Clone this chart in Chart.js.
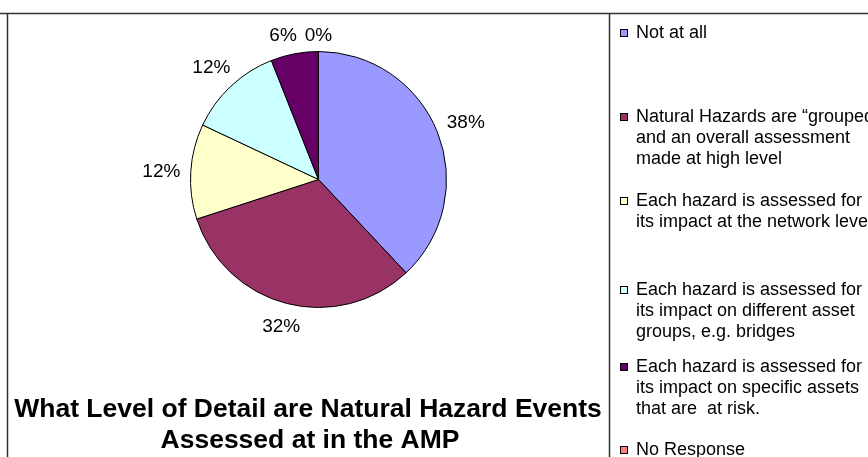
<!DOCTYPE html>
<html>
<head>
<meta charset="utf-8">
<script src="https://cdn.jsdelivr.net/npm/chart.js@4.4.1/dist/chart.umd.min.js"></script>
<style>
  html, body { margin: 0; padding: 0; background: #fff; }
  #wrap { width: 868px; height: 457px; position: relative; }
</style>
</head>
<body>
<div id="wrap"><canvas id="hazard_pie" width="868" height="457"></canvas></div>
<script>
// categories (legend lines) and shares in percent
const categories = [
  ['Not at all'],
  ['Natural Hazards are \u201cgrouped\u201d', 'and an overall assessment', 'made at high level'],
  ['Each hazard is assessed for', 'its impact at the network level'],
  ['Each hazard is assessed for', 'its impact on different asset', 'groups, e.g. bridges'],
  ['Each hazard is assessed for', 'its impact on specific assets', 'that are  at risk.'],
  ['No Response']
];
const shares = [38, 32, 12, 12, 6, 0];
const sliceColors = ['#9999FF', '#993366', '#FFFFCC', '#CCFFFF', '#660066', '#FF8080'];
const titleLines = ['What Level of Detail are Natural Hazard Events', 'Assessed at in the AMP'];

// legend layout
const legendTop = [33, 117, 201, 290, 367, 450];
const legendX = 620.5;
const lineH = 21;

const FONT = 'Arial, "Liberation Sans", sans-serif';

// frame lines, title and legend
const framePlugin = {
  id: 'frame',
  afterDraw(chart) {
    const c = chart.ctx;
    c.save();
    c.strokeStyle = '#333';
    c.lineWidth = 1.5;
    c.beginPath();
    c.moveTo(0, 13.5); c.lineTo(868, 13.5);
    c.moveTo(7.5, 13.5); c.lineTo(7.5, 457);
    c.moveTo(609.5, 13.5); c.lineTo(609.5, 457);
    c.stroke();

    // title
    c.fillStyle = '#000';
    c.font = 'bold 26.5px ' + FONT;
    c.textAlign = 'center';
    c.textBaseline = 'alphabetic';
    c.fillText(titleLines[0], 308, 417);
    c.fillText(titleLines[1], 310, 448);

    // legend
    const labels = chart.data.labels;
    const colors = chart.data.datasets[0].backgroundColor;
    c.font = '18px ' + FONT;
    c.textAlign = 'left';
    c.textBaseline = 'middle';
    labels.forEach((lines, i) => {
      const y = legendTop[i];
      c.fillStyle = colors[i];
      c.fillRect(legendX, y - 3.5, 7, 7);
      c.lineWidth = 1;
      c.strokeStyle = '#000';
      c.strokeRect(legendX, y - 3.5, 7, 7);
      c.fillStyle = '#000';
      lines.forEach((t, k) => c.fillText(t, 636, y + k * lineH));
    });
    c.restore();
  }
};

// percentage labels just outside each slice
const pctPlugin = {
  id: 'pctLabels',
  afterDatasetsDraw(chart) {
    const c = chart.ctx;
    const meta = chart.getDatasetMeta(0);
    const vals = chart.data.datasets[0].data;
    const gap = 10;
    const h = 15;
    c.save();
    c.font = '19px ' + FONT;
    c.fillStyle = '#000';
    c.textAlign = 'center';
    c.textBaseline = 'middle';

    const boxes = meta.data.map((arc, i) => {
      const p = arc.getProps(['x', 'y', 'startAngle', 'endAngle', 'outerRadius'], true);
      const mid = (p.startAngle + p.endAngle) / 2;
      const txt = vals[i] + '%';
      const w = c.measureText(txt).width;
      const ux = Math.cos(mid), uy = Math.sin(mid);
      const d = p.outerRadius + gap + w / 2 * Math.abs(ux) + h / 2 * Math.abs(uy);
      return { txt, w, x: p.x + ux * d, y: p.y + uy * d + 2 };
    });

    // push a label sideways when it runs into the next one
    for (let i = boxes.length - 2; i >= 0; i--) {
      const a = boxes[i], b = boxes[i + 1];
      const overlapY = Math.abs(a.y - b.y) < h;
      const need = (a.w + b.w) / 2 + 8;
      if (overlapY && Math.abs(a.x - b.x) < need) {
        a.x = a.x < b.x ? b.x - need : b.x + need;
      }
    }
    boxes.forEach(b => c.fillText(b.txt, b.x, b.y));
    c.restore();
  }
};

const ctx = document.getElementById('hazard_pie');

new Chart(ctx, {
  type: 'pie',
  data: {
    labels: categories,
    datasets: [{
      data: shares,
      backgroundColor: sliceColors,
      borderColor: '#000',
      borderWidth: 1,
      hoverOffset: 0
    }]
  },
  options: {
    responsive: false,
    animation: false,
    layout: {
      padding: { left: 190, right: 421, top: 51, bottom: 149 }
    },
    plugins: {
      legend: { display: false },
      tooltip: { enabled: false }
    }
  },
  plugins: [pctPlugin, framePlugin]
});
</script>
</body>
</html>
